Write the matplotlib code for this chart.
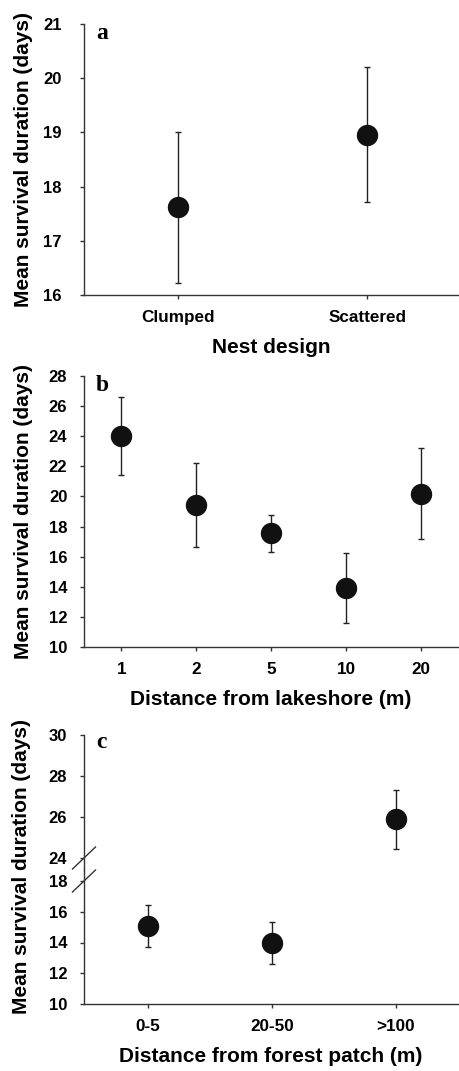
import numpy as np
import matplotlib
matplotlib.use("Agg")
import matplotlib.pyplot as plt

# panel a - nest design
nest_design = ["Clumped", "Scattered"]
a_mean = [17.62, 18.96]
a_lo = [16.23, 17.71]
a_hi = [19.0, 20.2]

# panel b - distance from lakeshore
lake_dist = ["1", "2", "5", "10", "20"]
b_mean = [24.0, 19.42, 17.56, 13.92, 20.17]
b_lo = [21.44, 16.65, 16.34, 11.57, 17.16]
b_hi = [26.58, 22.19, 18.8, 16.27, 23.21]

# panel c - distance from forest patch
forest_dist = ["0-5", "20-50", ">100"]
c_mean = [15.07, 13.99, 25.89]
c_lo = [13.72, 12.6, 24.42]
c_hi = [16.41, 15.36, 27.32]

plt.rcParams['font.family'] = ['Liberation Sans', 'DejaVu Sans']
plt.rcParams['font.weight'] = 'bold'

W, H = 460, 1071
fig = plt.figure(figsize=(W / 100, H / 100), dpi=100)

SPINE = '#333333'
DOT = '#111111'
YLABEL = "Mean survival duration (days)"


def px_axes(top, bottom, left=84, right=458):
    return fig.add_axes([left / W, 1 - bottom / H, (right - left) / W, (bottom - top) / H])


def style(ax, ypad=9):
    for s in ['top', 'right']:
        ax.spines[s].set_visible(False)
    for s in ['left', 'bottom']:
        ax.spines[s].set_color(SPINE)
        ax.spines[s].set_linewidth(1.0)
    ax.tick_params(axis='y', direction='out', length=3, width=1.0, color=SPINE,
                   labelsize=12, pad=ypad)
    ax.tick_params(axis='x', direction='out', length=3, width=1.0, color=SPINE,
                   labelsize=12.3, pad=8)
    for t in ax.get_xticklabels() + ax.get_yticklabels():
        t.set_fontweight('bold')


def points(ax, mean, lo, hi):
    x = np.arange(len(mean))
    mean = np.array(mean)
    err = [mean - np.array(lo), np.array(hi) - mean]
    ax.errorbar(x, mean, yerr=err, fmt='o', color=DOT, ms=14.4, mec=DOT,
                ecolor='#222222', elinewidth=1.0, capsize=2.5, capthick=1.0)


def letter(ax, s, dy=-10.5):
    ax.annotate(s, xy=(0, 1), xycoords='axes fraction', xytext=(8.5, dy),
                textcoords='offset points', fontsize=17, fontweight='bold',
                family='Liberation Serif', va='baseline', ha='left')


# --- a
ax = px_axes(24, 295)
points(ax, a_mean, a_lo, a_hi)
ax.set_xlim(0.5 - 1, 2.48 - 1)
ax.set_ylim(16, 21)
ax.set_xticks(range(len(nest_design)))
ax.set_xticklabels(nest_design)
ax.set_yticks(range(16, 22))
style(ax, ypad=13)
ax.set_xlabel("Nest design", fontsize=15, fontweight='bold', labelpad=9)
ax.set_ylabel(YLABEL, fontsize=15, fontweight='bold')
ax.yaxis.set_label_coords(-0.136, 0.5)
letter(ax, "a")

# --- b
ax = px_axes(376, 647)
points(ax, b_mean, b_lo, b_hi)
ax.set_xlim(-0.5, 4.49)
ax.set_ylim(10, 28)
ax.set_xticks(range(len(lake_dist)))
ax.set_xticklabels(lake_dist)
ax.set_yticks(range(10, 29, 2))
style(ax)
ax.set_xlabel("Distance from lakeshore (m)", fontsize=15, fontweight='bold', labelpad=9)
ax.set_ylabel(YLABEL, fontsize=15, fontweight='bold')
ax.yaxis.set_label_coords(-0.136, 0.5)
letter(ax, "b")

# --- c (broken axis)
mid = 869.5
up = px_axes(735, mid)
lo = px_axes(mid, 1004)
for ax in (up, lo):
    points(ax, c_mean, c_lo, c_hi)
    ax.set_xlim(-0.516, 2.5)
    ax.set_xticks(range(len(forest_dist)))
up.set_ylim(30 - (mid - 735) / 20.5, 30)
lo.set_ylim(10, 18 + (881 - mid) / 15.375)
up.set_yticks(range(24, 31, 2))
lo.set_yticks(range(10, 19, 2))
lo.set_xticklabels(forest_dist)
style(up)
style(lo)
up.spines['bottom'].set_visible(False)
lo.spines['left'].set_bounds(10, 18 + (881 - mid) / 15.375)
up.tick_params(axis='x', bottom=False, labelbottom=False)
lo.set_xlabel("Distance from forest patch (m)", fontsize=15, fontweight='bold', labelpad=9)
letter(up, "c", dy=-9)
fig.text(22 / W, 1 - 866 / H, YLABEL, rotation=90, fontsize=15, fontweight='bold',
         ha='center', va='center')

# break marks
for ax, yv, sc in ((up, 24, 20.5), (lo, 18, 15.375)):
    dx = 11.5 / 374
    dy = 11 / sc
    ax.plot([-dx, dx], [yv - dy, yv + dy], color=SPINE, lw=1.0,
            transform=ax.get_yaxis_transform(), clip_on=False)

fig.savefig("out.png", dpi=100)
